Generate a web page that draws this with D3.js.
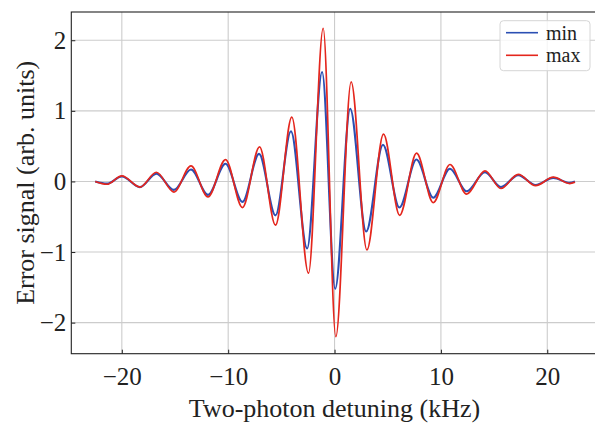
<!DOCTYPE html>
<html>
<head>
<meta charset="utf-8">
<script src="https://cdn.jsdelivr.net/npm/d3@7"></script>
<style>
  html, body { margin: 0; padding: 0; background: #fff; overflow: hidden; }
  svg { display: block; font-family: "Liberation Serif", "Times New Roman", serif; }
  .grid line { stroke: #cccccc; stroke-width: 1.1; }
  .axis text { font-family: "Liberation Serif", "Times New Roman", serif; font-size: 25px; fill: #222; }
  .axis line { stroke: #222; stroke-width: 1; }
</style>
</head>
<body>
<div id="chart"></div>
<script>
// Data (extrema of the two traces)
var minDetuning = [-22.5, -21.4, -20.0, -18.3, -16.75, -15.1, -13.5, -11.9, -10.25, -8.66, -7.1, -5.55, -4.1, -2.58, -1.17, 0.06, 1.47, 2.97, 4.55, 6.1, 7.7, 9.28, 10.85, 12.42, 14.14, 15.64, 17.27, 18.9, 20.57, 22.1, 22.6];
var minSignal = [0.0, -0.03, 0.07, -0.08, 0.11, -0.12, 0.17, -0.19, 0.25, -0.29, 0.39, -0.48, 0.71, -0.95, 1.55, -1.52, 1.03, -0.71, 0.52, -0.37, 0.31, -0.23, 0.18, -0.14, 0.13, -0.08, 0.09, -0.05, 0.05, -0.02, 0.0];

var maxDetuning = [-22.5, -21.4, -20.0, -18.3, -16.75, -15.1, -13.5, -11.9, -10.25, -8.66, -7.05, -5.55, -4.02, -2.45, -1.07, 0.12, 1.56, 3.04, 4.6, 6.12, 7.71, 9.28, 10.85, 12.42, 14.14, 15.64, 17.27, 18.9, 20.57, 22.1, 22.6];
var maxSignal = [0.0, -0.04, 0.08, -0.08, 0.13, -0.15, 0.22, -0.22, 0.31, -0.37, 0.49, -0.62, 0.91, -1.30, 2.17, -2.20, 1.41, -0.97, 0.67, -0.48, 0.40, -0.30, 0.24, -0.18, 0.15, -0.10, 0.10, -0.06, 0.06, -0.03, -0.01];

var xTicks = [-20, -10, 0, 10, 20];
var yTicks = [-2, -1, 0, 1, 2];
var seriesNames = ["min", "max"];
var seriesColors = ["#2b4fb3", "#e4261d"];

// canvas
var width = 595;
var height = 424;

// plot box (right edge runs just past the picture)
var plotLeft = 71.3, plotRight = 597.8, plotTop = 12, plotBottom = 353.7;

var svg = d3
  .select("#chart")
  .append("svg")
  .attr("width", width)
  .attr("height", height);

var xScale = d3.scaleLinear().domain([-24.75, 24.75]).range([plotLeft, plotRight]);
var yScale = d3.scaleLinear().domain([-2.44, 2.40]).range([plotBottom, plotTop]);

// grid
var grid = svg.append("g").attr("class", "grid");
grid.selectAll(".gx")
  .data(xTicks)
  .enter()
  .append("line")
  .attr("x1", function (d) { return xScale(d); })
  .attr("x2", function (d) { return xScale(d); })
  .attr("y1", plotTop)
  .attr("y2", plotBottom);
grid.selectAll(".gy")
  .data(yTicks)
  .enter()
  .append("line")
  .attr("y1", function (d) { return yScale(d); })
  .attr("y2", function (d) { return yScale(d); })
  .attr("x1", plotLeft)
  .attr("x2", plotRight);

// axes, ticks pointing inward
var xAxis = d3.axisBottom(xScale).tickValues(xTicks).tickFormat(d3.format("d"))
  .tickSizeInner(-4).tickSizeOuter(0).tickPadding(14);
var yAxis = d3.axisLeft(yScale).tickValues(yTicks).tickFormat(d3.format("d"))
  .tickSizeInner(-4).tickSizeOuter(0).tickPadding(5);

svg.append("g")
  .attr("class", "axis")
  .attr("transform", "translate(0," + plotBottom + ")")
  .call(xAxis)
  .call(function (g) { g.select(".domain").remove(); });

svg.append("g")
  .attr("class", "axis")
  .attr("transform", "translate(" + plotLeft + ",0)")
  .call(yAxis)
  .call(function (g) { g.select(".domain").remove(); });

// traces
var line = d3.line()
  .x(function (d) { return xScale(d[0]); })
  .y(function (d) { return yScale(d[1]); })
  .curve(d3.curveMonotoneX);

var traces = [
  d3.zip(minDetuning, minSignal),
  d3.zip(maxDetuning, maxSignal)
];

svg.selectAll(".trace")
  .data(traces)
  .enter()
  .append("path")
  .attr("class", "trace")
  .attr("fill", "none")
  .attr("stroke", function (d, i) { return seriesColors[i]; })
  .attr("stroke-width", function (d, i) { return i === 0 ? 2.1 : 1.7; })
  .attr("stroke-linejoin", "round")
  .attr("d", line);

// frame
svg.append("rect")
  .attr("x", plotLeft)
  .attr("y", plotTop)
  .attr("width", plotRight - plotLeft)
  .attr("height", plotBottom - plotTop)
  .attr("fill", "none")
  .attr("stroke", "#222")
  .attr("stroke-width", 1.1);

// legend
var legend = svg.append("g").attr("transform", "translate(500,20.7)");
legend.append("rect")
  .attr("width", 90)
  .attr("height", 50)
  .attr("rx", 3.5)
  .attr("fill", "#fff")
  .attr("fill-opacity", 0.8)
  .attr("stroke", "#d6d6d6");

var items = legend.selectAll(".item")
  .data(seriesNames)
  .enter()
  .append("g")
  .attr("transform", function (d, i) { return "translate(0," + (12 + i * 22.6) + ")"; });

items.append("line")
  .attr("x1", 6)
  .attr("x2", 38)
  .attr("stroke", function (d, i) { return seriesColors[i]; })
  .attr("stroke-width", 1.6);

items.append("text")
  .attr("x", 46)
  .attr("y", 7)
  .attr("font-size", 20)
  .attr("fill", "#222")
  .text(function (d) { return d; });

// axis labels
svg.append("text")
  .attr("x", (plotLeft + plotRight) / 2)
  .attr("y", 417)
  .attr("text-anchor", "middle")
  .attr("font-size", 26)
  .attr("fill", "#222")
  .text("Two-photon detuning (kHz)");

svg.append("text")
  .attr("transform", "translate(34," + ((plotTop + plotBottom) / 2) + ")rotate(-90)")
  .attr("text-anchor", "middle")
  .attr("font-size", 26)
  .attr("fill", "#222")
  .text("Error signal (arb. units)");
</script>
</body>
</html>
